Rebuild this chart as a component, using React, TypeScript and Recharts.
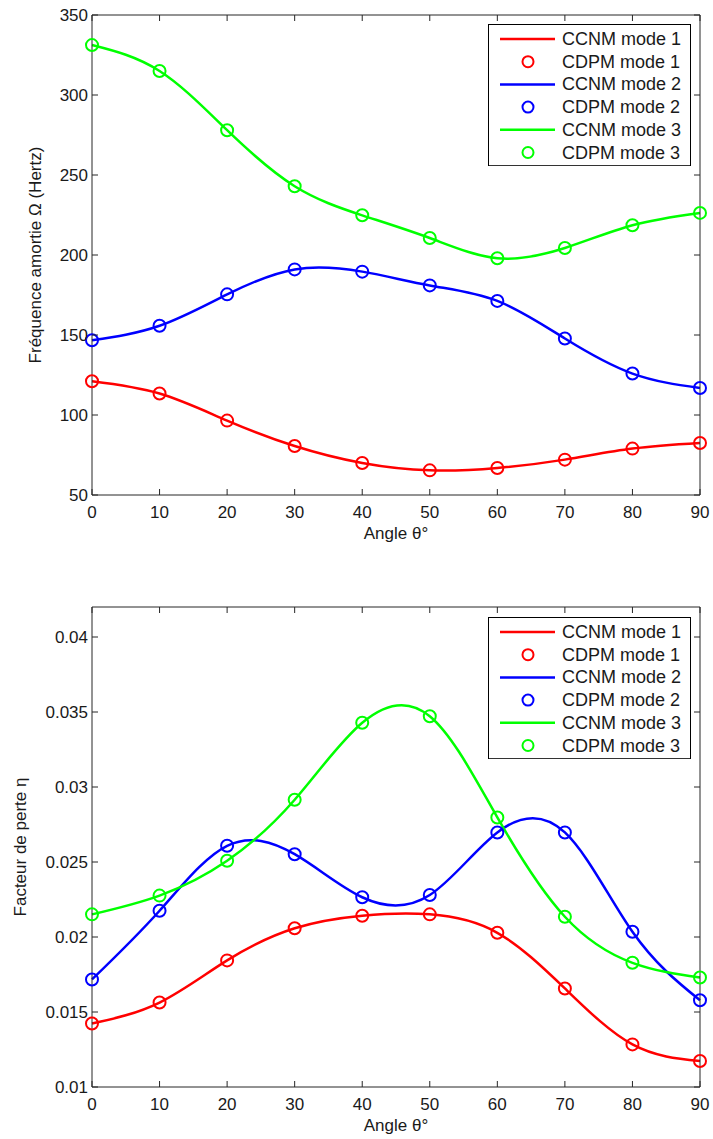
import React from 'react';
import { ComposedChart, Line, XAxis, YAxis, Legend } from 'recharts';

const angles = [0, 10, 20, 30, 40, 50, 60, 70, 80, 90];
const xTicks = [0, 10, 20, 30, 40, 50, 60, 70, 80, 90];

const freqMode1 = [121.1, 113.4, 96.5, 80.6, 70.0, 65.4, 66.9, 72.1, 79.0, 82.5];
const freqMode2 = [146.7, 155.8, 175.4, 191.0, 189.6, 181.0, 171.3, 147.8, 125.9, 116.9];
const freqMode3 = [331.2, 315.0, 278.0, 243.0, 224.8, 210.6, 198.0, 204.4, 218.6, 226.3];
const freqTicks = [50, 100, 150, 200, 250, 300, 350];

const lossMode1 = [0.01423, 0.01563, 0.01844, 0.02058, 0.02142, 0.02151, 0.02028, 0.01657, 0.01284, 0.01173];
const lossMode2 = [0.01717, 0.02175, 0.02608, 0.02552, 0.02265, 0.0228, 0.02697, 0.02697, 0.02035, 0.01578];
const lossMode3 = [0.02151, 0.02276, 0.02508, 0.02915, 0.03428, 0.03472, 0.02797, 0.02135, 0.01828, 0.0173];
const lossTicks = [0.01, 0.015, 0.02, 0.025, 0.03, 0.035, 0.04];

const legendLabels = ['CCNM mode 1', 'CDPM mode 1', 'CCNM mode 2', 'CDPM mode 2', 'CCNM mode 3', 'CDPM mode 3'];
const COLORS = ['#ff0000', '#0000ff', '#00ff00'];

const FONT = 'Liberation Sans, Arial, Helvetica, sans-serif';
const AXIS = '#262626';
const TICK_LEN = 6;
const TICK_MARGIN = 10;

function buildRows(m1: number[], m2: number[], m3: number[]) {
  return angles.map((a, i) => ({ angle: a, m1: m1[i], m2: m2[i], m3: m3[i] }));
}

const BottomTick = (props: any) => {
  const { x, y, payload } = props;
  const base = y - TICK_MARGIN;
  return (
    <g>
      <line x1={x} x2={x} y1={base} y2={base - TICK_LEN} stroke={AXIS} strokeWidth={1} />
      <text x={x} y={base + 17} textAnchor="middle" dominantBaseline="central" fontSize={17} fill="#1a1a1a" fontFamily={FONT}>
        {payload.value}
      </text>
    </g>
  );
};

const TopTick = (props: any) => {
  const { x, y } = props;
  const base = y + TICK_MARGIN;
  return <line x1={x} x2={x} y1={base} y2={base + TICK_LEN} stroke={AXIS} strokeWidth={1} />;
};

const LeftTick = (props: any) => {
  const { x, y, payload } = props;
  const base = x + TICK_MARGIN;
  return (
    <g>
      <line x1={base} x2={base + TICK_LEN} y1={y} y2={y} stroke={AXIS} strokeWidth={1} />
      <text x={base - 4} y={y} textAnchor="end" dominantBaseline="central" fontSize={17} fill="#1a1a1a" fontFamily={FONT}>
        {payload.value}
      </text>
    </g>
  );
};

const RightTick = (props: any) => {
  const { x, y } = props;
  const base = x - TICK_MARGIN;
  return <line x1={base} x2={base - TICK_LEN} y1={y} y2={y} stroke={AXIS} strokeWidth={1} />;
};

const LegendBox = () => {
  const w = 203;
  const rowH = 22.7;
  const h = 6 * rowH + 6;
  return (
    <svg width={w} height={h} style={{ display: 'block' }}>
      <rect x={0.5} y={0.5} width={w - 1} height={h - 1} fill="#fff" stroke="#000" strokeWidth={1} />
      {legendLabels.map((label, i) => {
        const cy = 15 + i * rowH;
        const color = COLORS[Math.floor(i / 2)];
        const isLine = i % 2 === 0;
        return (
          <g key={label}>
            {isLine ? (
              <line x1={12} x2={67} y1={cy} y2={cy} stroke={color} strokeWidth={2.5} />
            ) : (
              <circle cx={40} cy={cy} r={5.5} fill="none" stroke={color} strokeWidth={2} />
            )}
            <text x={74} y={cy} dominantBaseline="central" fontSize={18} fill="#1a1a1a" fontFamily={FONT}>
              {label}
            </text>
          </g>
        );
      })}
    </svg>
  );
};

type PanelProps = {
  rows: any[];
  height: number;
  topSpace: number;
  bottomSpace: number;
  yDomain: [number, number];
  yTicks: number[];
  yLabel: string;
  yLabelX: number;
  legendTop: number;
};

const Panel = ({ rows, height, topSpace, bottomSpace, yDomain, yTicks, yLabel, yLabelX, legendTop }: PanelProps) => {
  const yLabelContent = (p: any) => {
    const vb = p.viewBox || {};
    const cy = (vb.y || 0) + (vb.height || 0) / 2;
    return (
      <text
        x={yLabelX}
        y={cy}
        transform={`rotate(-90 ${yLabelX} ${cy})`}
        textAnchor="middle"
        dominantBaseline="central"
        fontSize={17}
        fill="#1a1a1a"
        fontFamily={FONT}
      >
        {yLabel}
      </text>
    );
  };
  const xLabelContent = (p: any) => {
    const vb = p.viewBox || {};
    const cx = (vb.x || 0) + (vb.width || 0) / 2;
    return (
      <text x={cx} y={(vb.y || 0) + 38} textAnchor="middle" dominantBaseline="central" fontSize={17} fill="#1a1a1a" fontFamily={FONT}>
        Angle θ°
      </text>
    );
  };
  const keys = ['m1', 'm2', 'm3'];
  return (
    <ComposedChart width={713} height={height} data={rows} margin={{ top: 0, right: 0, bottom: 0, left: 0 }}>
      <XAxis
        xAxisId="b"
        dataKey="angle"
        type="number"
        domain={[0, 90]}
        ticks={xTicks}
        orientation="bottom"
        height={bottomSpace}
        tickSize={0}
        tickMargin={TICK_MARGIN}
        tickLine={false}
        axisLine={{ stroke: AXIS, strokeWidth: 1 }}
        tick={<BottomTick />}
        interval={0}
        label={{ content: xLabelContent }}
      />
      <XAxis
        xAxisId="t"
        dataKey="angle"
        type="number"
        domain={[0, 90]}
        ticks={xTicks}
        orientation="top"
        height={topSpace}
        tickSize={0}
        tickMargin={TICK_MARGIN}
        tickLine={false}
        axisLine={{ stroke: AXIS, strokeWidth: 1 }}
        tick={<TopTick />}
        interval={0}
      />
      <YAxis
        yAxisId="l"
        type="number"
        domain={yDomain}
        ticks={yTicks}
        orientation="left"
        width={92}
        tickSize={0}
        tickMargin={TICK_MARGIN}
        tickLine={false}
        axisLine={{ stroke: AXIS, strokeWidth: 1 }}
        tick={<LeftTick />}
        interval={0}
        allowDataOverflow
        label={{ content: yLabelContent }}
      />
      <YAxis
        yAxisId="r"
        type="number"
        domain={yDomain}
        ticks={yTicks}
        orientation="right"
        width={13}
        tickSize={0}
        tickMargin={TICK_MARGIN}
        tickLine={false}
        axisLine={{ stroke: AXIS, strokeWidth: 1 }}
        tick={<RightTick />}
        interval={0}
        allowDataOverflow
      />
      {keys.map((k, i) => [
        <Line
          key={`line-${k}`}
          xAxisId="b"
          yAxisId="l"
          type="natural"
          dataKey={k}
          stroke={COLORS[i]}
          strokeWidth={2.5}
          dot={false}
          activeDot={false}
          isAnimationActive={false}
        />,
        <Line
          key={`dot-${k}`}
          xAxisId="b"
          yAxisId="l"
          type="linear"
          dataKey={k}
          stroke="none"
          strokeWidth={0}
          dot={{ r: 6, fill: 'none', stroke: COLORS[i], strokeWidth: 2 }}
          activeDot={false}
          isAnimationActive={false}
        />,
      ])}
      <Legend
        layout="vertical"
        align="center"
        verticalAlign="middle"
        content={() => <LegendBox />}
        wrapperStyle={{ left: 488, top: legendTop, width: 203, height: 143 }}
      />
    </ComposedChart>
  );
};

export default function App() {
  const freqRows = buildRows(freqMode1, freqMode2, freqMode3);
  const lossRows = buildRows(lossMode1, lossMode2, lossMode3);
  return (
    <div style={{ position: 'absolute', left: 0, top: 0, width: 713, height: 1139, background: '#fff' }}>
      <div style={{ position: 'absolute', left: 0, top: 0 }}>
        <Panel
          rows={freqRows}
          height={560}
          topSpace={15}
          bottomSpace={65}
          yDomain={[50, 350]}
          yTicks={freqTicks}
          yLabel="Fréquence amortie Ω (Hertz)"
          yLabelX={35}
          legendTop={24}
        />
      </div>
      <div style={{ position: 'absolute', left: 0, top: 560 }}>
        <Panel
          rows={lossRows}
          height={579}
          topSpace={47}
          bottomSpace={52}
          yDomain={[0.01, 0.042]}
          yTicks={lossTicks}
          yLabel="Facteur de perte η"
          yLabelX={20}
          legendTop={57}
        />
      </div>
    </div>
  );
}
